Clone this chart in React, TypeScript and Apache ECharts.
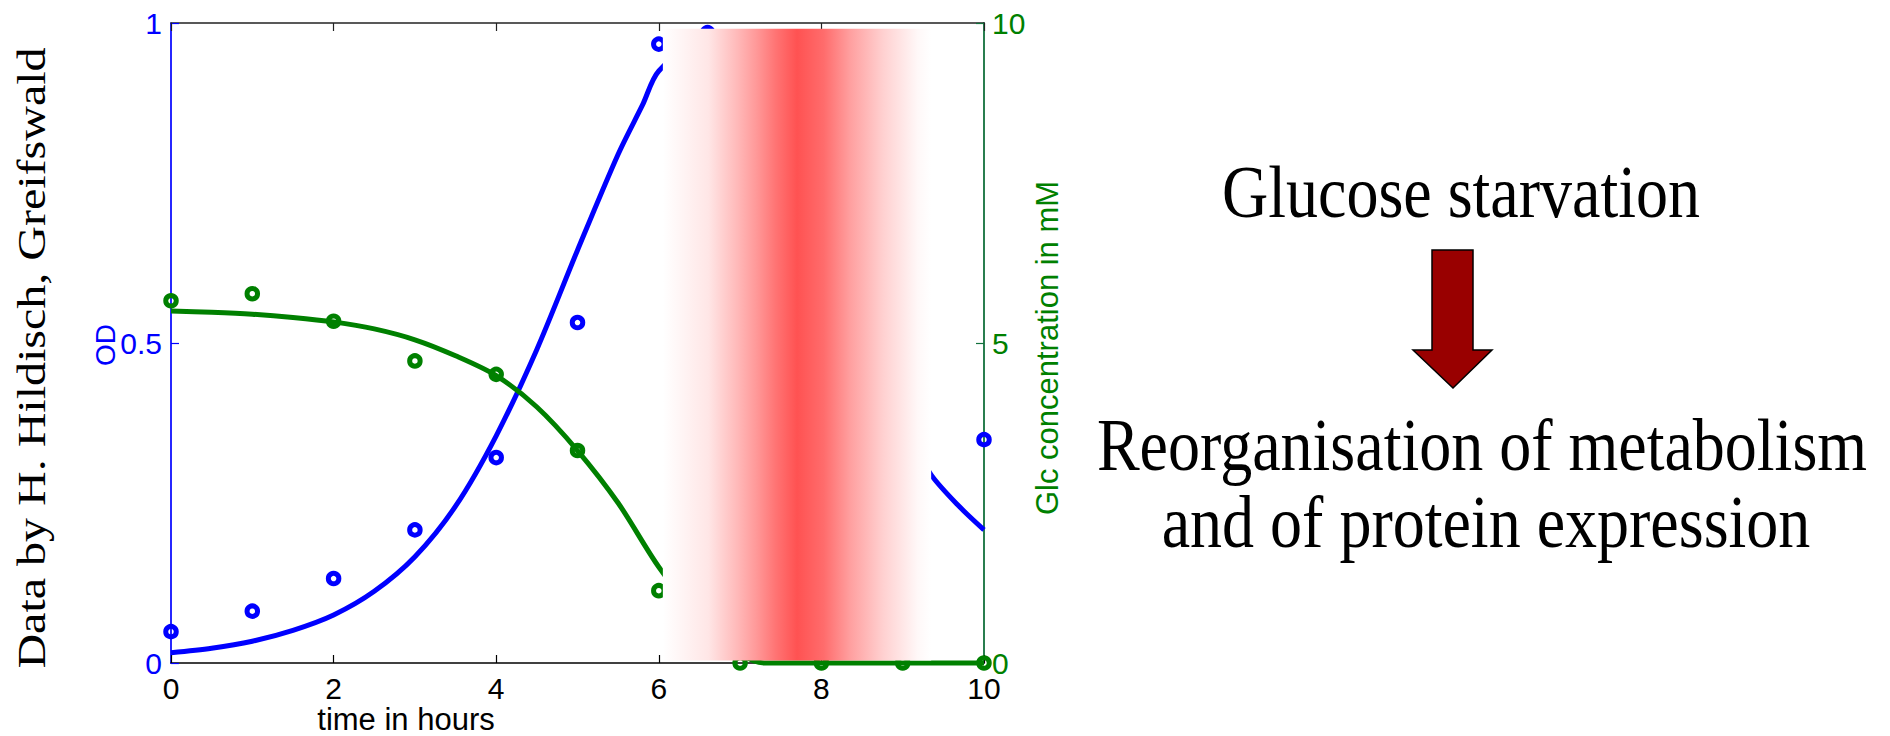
import React, { useEffect, useRef } from "react";
import * as echarts from "echarts";

// ---- data ----
const xTicks = [0, 2, 4, 6, 8, 10];
const odTime = [0, 1, 2, 3, 4, 5, 6, 6.6, 10];
const odMeasured = [0.049, 0.081, 0.132, 0.208, 0.321, 0.532, 0.967, 0.985, 0.349];
const glcTime = [0, 1, 2, 3, 4, 5, 6, 7, 8, 9, 10];
const glcMeasured = [5.66, 5.77, 5.34, 4.72, 4.51, 3.32, 1.13, 0, 0, 0, 0];
const odFitTime = [0, 0.5, 1, 1.5, 2, 2.5, 3, 3.5, 4, 4.5, 5, 5.5, 5.8, 6, 6.5, 7, 7.5, 8, 8.5, 9, 9.35, 9.7, 10];
const odFit = [0.016, 0.023, 0.034, 0.051, 0.075, 0.112, 0.166, 0.245, 0.355, 0.49, 0.645, 0.795, 0.872, 0.925, 0.97, 0.94, 0.8, 0.64, 0.49, 0.37, 0.294, 0.244, 0.208];
const glcFitTime = [0, 0.5, 1, 1.5, 2, 2.5, 3, 3.5, 4, 4.5, 5, 5.5, 6, 6.5, 7, 7.3, 8, 9, 10];
const glcFit = [5.5, 5.48, 5.45, 5.4, 5.33, 5.22, 5.05, 4.8, 4.49, 4.0, 3.32, 2.5, 1.5, 0.7, 0.15, 0, 0, 0, 0];
const starvationBand = [6.05, 9.35]; // hours
const bandOD = [0.991, 0.004];

const pairs = (xs: number[], ys: number[]) => xs.map((x, i) => [x, ys[i]]);

const SANS = "'Liberation Sans', Arial, Helvetica, sans-serif";
const SERIF = "'Liberation Serif', 'Times New Roman', serif";
const BLUE = "#0000ff";
const GREEN = "#008000";
const AXIS_GREEN = "#12703c";

const bandGradient = {
  type: "linear",
  x: 0,
  y: 0,
  x2: 1,
  y2: 0,
  colorStops: [
    { offset: 0, color: "#ffffff" },
    { offset: 0.17, color: "#ffe6e6" },
    { offset: 0.28, color: "#ffb8b8" },
    { offset: 0.35, color: "#ff9898" },
    { offset: 0.42, color: "#ff7474" },
    { offset: 0.5, color: "#ff5252" },
    { offset: 0.6, color: "#ff6c6c" },
    { offset: 0.7, color: "#ffa0a0" },
    { offset: 0.82, color: "#ffd0d0" },
    { offset: 0.95, color: "#fff8f8" },
    { offset: 1, color: "#ffffff" },
  ],
  global: false,
};

export default function App() {
  const ref = useRef<HTMLDivElement>(null);
  useEffect(() => {
    if (!ref.current) return;
    const chart = echarts.init(ref.current, undefined, { renderer: "svg" });
    const option: any = {
      animation: false,
      grid: { left: 171, top: 23, width: 813, height: 640, containLabel: false },
      xAxis: [
        {
          type: "value",
          min: xTicks[0],
          max: xTicks[xTicks.length - 1],
          interval: 2,
          position: "bottom",
          axisLine: { show: true, onZero: false, lineStyle: { color: "#000", width: 1.5 } },
          axisTick: { show: true, inside: true, length: 8, lineStyle: { color: "#000", width: 1.2 } },
          axisLabel: { color: "#000", fontSize: 30, lineHeight: 24, margin: 13, fontFamily: SANS },
          splitLine: { show: false },
        },
        {
          type: "value",
          min: xTicks[0],
          max: xTicks[xTicks.length - 1],
          interval: 2,
          position: "top",
          axisLine: { show: true, onZero: false, lineStyle: { color: "#222", width: 1.5 } },
          axisTick: { show: true, inside: true, length: 8, lineStyle: { color: "#222", width: 1.2 } },
          axisLabel: { show: false },
          splitLine: { show: false },
        },
      ],
      yAxis: [
        {
          type: "value",
          min: 0,
          max: 1,
          interval: 0.5,
          position: "left",
          axisLine: { show: true, onZero: false, lineStyle: { color: BLUE, width: 1.7 } },
          axisTick: { show: true, inside: true, length: 8, lineStyle: { color: BLUE, width: 1.2 } },
          axisLabel: { color: BLUE, fontSize: 30, lineHeight: 24, margin: 9, fontFamily: SANS },
          splitLine: { show: false },
        },
        {
          type: "value",
          min: 0,
          max: 10,
          interval: 5,
          position: "right",
          axisLine: { show: true, onZero: false, lineStyle: { color: AXIS_GREEN, width: 1.8 } },
          axisTick: { show: true, inside: true, length: 8, lineStyle: { color: AXIS_GREEN, width: 1.2 } },
          axisLabel: { color: GREEN, fontSize: 30, lineHeight: 24, margin: 8, fontFamily: SANS },
          splitLine: { show: false },
        },
      ],
      series: [
        {
          type: "line",
          xAxisIndex: 0,
          yAxisIndex: 0,
          data: pairs(odFitTime, odFit),
          showSymbol: false,
          smooth: 0.3,
          clip: false,
          lineStyle: { color: BLUE, width: 5 },
          z: 2,
          silent: true,
        },
        {
          type: "line",
          xAxisIndex: 0,
          yAxisIndex: 1,
          data: pairs(glcFitTime, glcFit),
          showSymbol: false,
          smooth: 0.3,
          clip: false,
          lineStyle: { color: GREEN, width: 5 },
          z: 2,
          silent: true,
        },
        {
          type: "scatter",
          xAxisIndex: 0,
          yAxisIndex: 0,
          data: pairs(odTime, odMeasured),
          symbol: "circle",
          symbolSize: 10.5,
          clip: false,
          itemStyle: { color: "rgba(255,255,255,0)", borderColor: BLUE, borderWidth: 5, opacity: 1 },
          z: 3,
          silent: true,
        },
        {
          type: "scatter",
          xAxisIndex: 0,
          yAxisIndex: 1,
          data: pairs(glcTime, glcMeasured),
          symbol: "circle",
          symbolSize: 10.5,
          clip: false,
          itemStyle: { color: "rgba(255,255,255,0)", borderColor: GREEN, borderWidth: 5, opacity: 1 },
          z: 3,
          silent: true,
        },
        {
          type: "custom",
          xAxisIndex: 0,
          yAxisIndex: 0,
          z: 10,
          silent: true,
          encode: { x: [0, 1], y: [2, 3] },
          data: [[starvationBand[0], starvationBand[1], bandOD[0], bandOD[1]]],
          renderItem: (params: any, api: any) => {
            const p1 = api.coord([api.value(0), api.value(2)]);
            const p2 = api.coord([api.value(1), api.value(3)]);
            return {
              type: "rect",
              shape: { x: p1[0], y: p1[1], width: p2[0] - p1[0], height: p2[1] - p1[1] },
              style: { fill: bandGradient },
            };
          },
        },
      ],
      graphic: [
        {
          type: "text",
          x: 32,
          y: 358,
          rotation: Math.PI / 2,
          scaleX: 1.2,
          style: {
            text: "Data by H. Hildisch, Greifswald",
            fontSize: 40,
            fontFamily: SERIF,
            fill: "#000",
            align: "center",
            verticalAlign: "middle",
          },
        },
        {
          type: "text",
          x: 105,
          y: 345,
          rotation: Math.PI / 2,
          style: { text: "OD", fontSize: 28, fontFamily: SANS, fill: BLUE, align: "center", verticalAlign: "middle" },
        },
        {
          type: "text",
          x: 1047,
          y: 348,
          rotation: Math.PI / 2,
          style: {
            text: "Glc concentration in mM",
            fontSize: 31,
            fontFamily: SANS,
            fill: GREEN,
            align: "center",
            verticalAlign: "middle",
          },
        },
        {
          type: "text",
          x: 406,
          y: 719,
          style: { text: "time in hours", fontSize: 31, fontFamily: SANS, fill: "#000", align: "center", verticalAlign: "middle" },
        },
        {
          type: "text",
          x: 1461,
          y: 192,
          scaleY: 1.16,
          style: { text: "Glucose starvation", fontSize: 64, fontFamily: SERIF, fill: "#000", align: "center", verticalAlign: "middle" },
        },
        {
          type: "text",
          x: 1482,
          y: 445,
          scaleY: 1.16,
          style: { text: "Reorganisation of metabolism", fontSize: 64, fontFamily: SERIF, fill: "#000", align: "center", verticalAlign: "middle" },
        },
        {
          type: "text",
          x: 1486,
          y: 522,
          scaleY: 1.16,
          style: { text: "and of protein expression", fontSize: 64, fontFamily: SERIF, fill: "#000", align: "center", verticalAlign: "middle" },
        },
        {
          type: "polygon",
          shape: {
            points: [
              [1432, 250],
              [1473, 250],
              [1473, 350],
              [1492, 350],
              [1453, 388],
              [1413, 350],
              [1432, 350],
            ],
          },
          style: { fill: "#990000", stroke: "#000", lineWidth: 1.5 },
        },
      ],
    };
    chart.setOption(option);
    return () => chart.dispose();
  }, []);
  return (
    <div
      ref={ref}
      style={{ position: "absolute", left: 0, top: 0, width: 1890, height: 736, background: "#fff" }}
    />
  );
}
